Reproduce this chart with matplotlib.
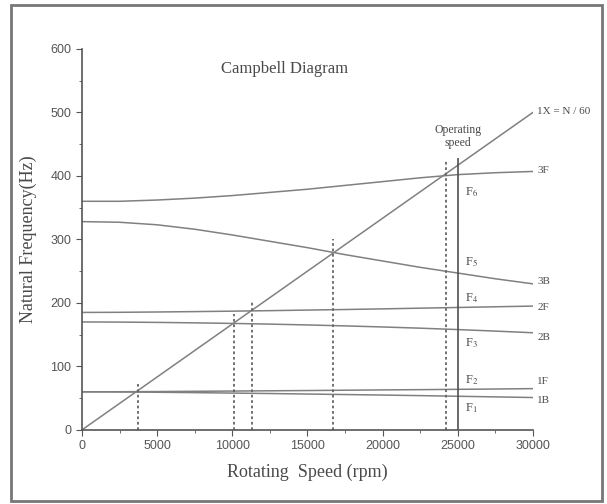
import matplotlib
matplotlib.use('Agg')
import matplotlib.pyplot as plt
from matplotlib.ticker import MultipleLocator
from matplotlib.patches import Rectangle

plt.rcParams['mathtext.fontset'] = 'stix'

# speeds where the mode curves were read (rpm)
speed = [0, 2500, 5000, 7500, 10000, 12500, 15000, 17500, 20000, 22500, 25000, 27500, 30000]
f_3F = [360, 360, 362, 365, 369, 374, 379, 385, 391, 397, 402, 405, 407]
f_3B = [328, 327, 323, 316, 307, 297, 287, 276, 266, 256, 247, 238, 230]
f_2F = [185, 185.2, 185.7, 186.3, 187, 187.8, 188.7, 189.6, 190.6, 191.7, 192.8, 193.9, 195]
f_2B = [170, 169.8, 169.3, 168.6, 167.7, 166.6, 165.3, 163.8, 162.1, 160.2, 158, 155.6, 153]
f_1F = [60, 60.1, 60.4, 60.8, 61.2, 61.6, 62, 62.5, 63, 63.4, 63.9, 64.4, 65]
f_1B = [60, 59.8, 59.3, 58.7, 58, 57.3, 56.5, 55.7, 54.9, 54, 53, 52, 51]
modes = ['3F', '3B', '2F', '2B', '1F', '1B']
mode_vals = [f_3F, f_3B, f_2F, f_2B, f_1F, f_1B]
label_y = [409, 233, 192, 145, 76, 47]

# 1X excitation line
x_1x = [0, 30000]
y_1x = [0, 500]

# crossings (dotted) and operating speed
cross_speed = [3700, 10100, 11300, 16700, 24200]
cross_top = [75, 182, 202, 300, 425]
op_speed = 25000
op_top = 428

f_labels = ['F$_6$', 'F$_5$', 'F$_4$', 'F$_3$', 'F$_2$', 'F$_1$']
f_label_y = [375, 265, 208, 137, 79, 35]

line_c = '#808080'
text_c = '#4a4a4a'

fig = plt.figure(figsize=(6.07, 5.04), dpi=100)
ax = fig.add_axes([0.135, 0.147, 0.743, 0.756])

for vals in mode_vals:
    ax.plot(speed, vals, color=line_c, linewidth=1.1)
ax.plot(x_1x, y_1x, color=line_c, linewidth=1.1)

ax.vlines(cross_speed, 0, cross_top, colors='#666666', linestyles=(0, (1.5, 1.5)), linewidth=1.3)
ax.vlines(op_speed, 0, op_top, colors='#505050', linewidth=1.2)

for name, y in zip(modes, label_y):
    ax.text(30300, y, name, fontsize=8, family='Liberation Serif', color=text_c, va='center', ha='left')
ax.text(30300, 502, '1X = N / 60', fontsize=8, family='Liberation Serif', color=text_c, va='center', ha='left')

for lab, y in zip(f_labels, f_label_y):
    ax.text(25450, y, lab, fontsize=9, family='Liberation Serif', color=text_c, va='center', ha='left')

ax.text(25000, 462, 'Operating\nspeed', fontsize=8.5, family='Liberation Serif', color=text_c,
        ha='center', va='center', linespacing=1.1)
ax.text(13500, 568, 'Campbell Diagram', fontsize=12, family='Liberation Serif', color=text_c,
        ha='center', va='center')

ax.set_xlim(0, 30000)
ax.set_ylim(0, 600)
ax.xaxis.set_major_locator(MultipleLocator(5000))
ax.xaxis.set_minor_locator(MultipleLocator(2500))
ax.yaxis.set_major_locator(MultipleLocator(100))
ax.yaxis.set_minor_locator(MultipleLocator(50))

for s in ['top', 'right']:
    ax.spines[s].set_visible(False)
for s in ['left', 'bottom']:
    ax.spines[s].set_color('#555555')
    ax.spines[s].set_linewidth(1.2)

ax.tick_params(which='major', length=4, color='#555555', labelsize=9, labelcolor='#555555')
ax.tick_params(which='minor', length=2.5, color='#555555')
for t in ax.get_xticklabels() + ax.get_yticklabels():
    t.set_family('Liberation Sans')

ax.set_xlabel('Rotating  Speed (rpm)', fontsize=13, family='Liberation Serif', color=text_c, labelpad=8)
ax.set_ylabel('Natural Frequency(Hz)', fontsize=13, family='Liberation Serif', color=text_c, labelpad=10)

# outer frame
fig.patches.append(Rectangle((11 / 607, 3 / 504), 591 / 607, 496 / 504, transform=fig.transFigure,
                             fill=False, edgecolor='#777777', linewidth=2))

plt.savefig('out.png', dpi=100)
